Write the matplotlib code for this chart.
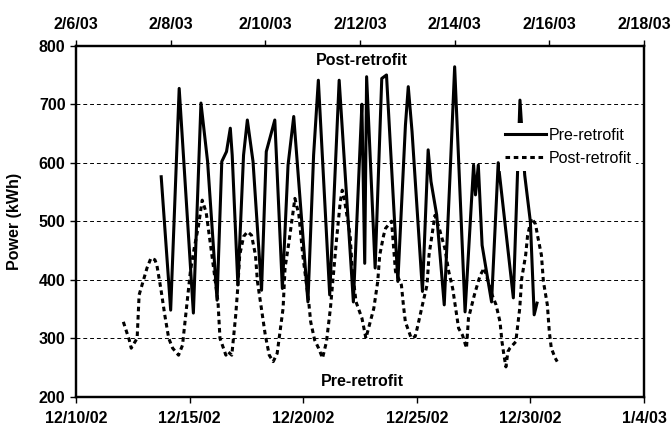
#!/usr/bin/env python3
"""Hourly power, pre- vs post-retrofit, on two date axes."""
from datetime import datetime, timedelta

import matplotlib
matplotlib.use("Agg")
import matplotlib.pyplot as plt
import matplotlib.dates as mdates
from matplotlib.ticker import FuncFormatter, MultipleLocator

plt.rcParams["font.family"] = ["Liberation Sans", "DejaVu Sans"]

# pre-retrofit (Dec 2002, bottom axis): hours after 12/10/02 00:00
PRE_START = datetime(2002, 12, 10)
pre_hours = [90, 100, 109, 124, 132, 139, 149, 154, 159, 163, 165, 171, 177, 181, 187,
             196, 201, 210, 218, 224, 230, 245, 251, 256, 268, 278, 293, 300, 302, 305,
             307, 316, 323, 328, 340, 348, 351, 355, 366, 372, 375, 381, 389, 395, 400,
             411, 420, 422, 425, 429, 439, 446, 453, 462, 469, 474, 480, 484, 487]
pre_kwh = [576, 348, 727, 343, 702, 602, 365, 602, 619, 659, 613, 391, 613, 673, 602,
           382, 619, 673, 385, 596, 679, 362, 613, 741, 374, 741, 362, 625, 700, 428,
           747, 420, 744, 750, 397, 664, 730, 653, 380, 622, 568, 511, 357, 574, 764,
           345, 596, 545, 596, 459, 362, 600, 499, 369, 707, 579, 499, 340, 360]

# post-retrofit (Feb 2003, top axis): hours after 2/6/03 00:00
POST_START = datetime(2003, 2, 6)
post_hours = [24, 27, 28, 31, 32, 34, 36, 38, 40, 41, 43, 45, 47, 49, 52, 54, 56, 58,
              60, 62, 64, 66, 68, 70, 72, 73, 76, 77, 79, 81, 82, 83, 85, 87, 89, 91,
              92, 94, 96, 98, 100, 102, 105, 106, 108, 111, 113, 115, 118, 119, 121, 123,
              125, 127, 129, 132, 134, 135, 136, 139, 140, 142, 145, 147, 151, 153, 154,
              156, 157, 160, 162, 165, 166, 167, 170, 172, 173, 176, 178, 179, 182, 184,
              187, 189, 191, 193, 194, 196, 198, 199, 202, 204, 205, 207, 209, 211, 213,
              215, 216, 217, 218, 219, 220, 223, 225, 226, 228, 229, 231, 233, 234, 236,
              237, 239, 240, 241, 243, 244]
post_kwh = [328, 297, 283, 300, 374, 397, 420, 437, 434, 425, 385, 340, 300, 283, 271, 288,
            351, 414, 455, 490, 536, 515, 465, 414, 362, 300, 271, 277, 271, 340, 385, 442,
            474, 482, 476, 442, 397, 351, 305, 271, 260, 274, 351, 420, 465, 539, 511, 442,
            362, 328, 297, 283, 266, 294, 351, 465, 533, 553, 539, 476, 420, 362, 334, 300,
            351, 397, 442, 476, 488, 500, 414, 391, 357, 328, 300, 303, 317, 362, 391, 442,
            510, 490, 454, 414, 385, 340, 317, 305, 283, 334, 374, 397, 408, 420, 397, 374,
            357, 328, 294, 271, 251, 277, 283, 294, 351, 402, 442, 476, 505, 495, 476, 442,
            397, 357, 311, 283, 266, 260]

pre_t = [PRE_START + timedelta(hours=h) for h in pre_hours]
post_t = [POST_START + timedelta(hours=h) for h in post_hours]

FS = 11.5


def date_label(v, pos):
    d = mdates.num2date(v)
    return f"{d.month}/{d.day}/{d:%y}"


fig = plt.figure(figsize=(6.72, 4.28), dpi=100)
ax = fig.add_axes([0.1131, 0.0731, 0.8452, 0.8201])

ax.plot(pre_t, pre_kwh, color="black", lw=2.2, label="Pre-retrofit", zorder=3,
        solid_joinstyle="round")
ax.set_xlim(datetime(2002, 12, 10), datetime(2003, 1, 4))
ax.xaxis.set_major_locator(mdates.DayLocator(bymonthday=[4, 10, 15, 20, 25, 30]))
ax.xaxis.set_major_formatter(FuncFormatter(date_label))
ax.set_ylim(200, 800)
ax.yaxis.set_major_locator(MultipleLocator(100))
ax.yaxis.grid(True, color="black", linestyle=(0, (4, 3)), lw=0.7)
ax.set_ylabel("Power (kWh)", fontsize=FS, fontweight="bold", labelpad=12)
ax.tick_params(axis="both", direction="out", length=4, width=1, labelsize=FS)
ax.tick_params(axis="x", pad=6)
for lbl in ax.get_xticklabels() + ax.get_yticklabels():
    lbl.set_fontweight("bold")

ax2 = ax.twiny()
ax2.plot(post_t, post_kwh, color="black", lw=2.2, linestyle=(0, (1.5, 1.2)),
         label="Post-retrofit", zorder=3)
ax2.set_xlim(datetime(2003, 2, 6), datetime(2003, 2, 18))
ax2.xaxis.set_major_locator(mdates.DayLocator(interval=2))
ax2.xaxis.set_major_formatter(FuncFormatter(date_label))
ax2.tick_params(axis="x", direction="out", length=4, width=1, labelsize=FS, pad=6)
for lbl in ax2.get_xticklabels():
    lbl.set_fontweight("bold")

for a in (ax, ax2):
    for s in a.spines.values():
        s.set_linewidth(1.6)

ax2.text(0.504, 0.959, "Post-retrofit", transform=ax.transAxes, ha="center",
         va="center", fontsize=FS, fontweight="bold")
ax2.text(0.504, 0.043, "Pre-retrofit", transform=ax.transAxes, ha="center",
         va="center", fontsize=FS, fontweight="bold")

h1, l1 = ax.get_legend_handles_labels()
h2, l2 = ax2.get_legend_handles_labels()
leg = ax2.legend(h1 + h2, l1 + l2, loc="upper left", bbox_to_anchor=(0.746, 0.78),
                 fontsize=FS, frameon=True, fancybox=False, framealpha=1,
                 edgecolor="none", borderpad=0.3, handlelength=2.6,
                 handletextpad=0.15, labelspacing=0.5, borderaxespad=0)
leg.set_zorder(10)

fig.savefig("out.png", dpi=100)
